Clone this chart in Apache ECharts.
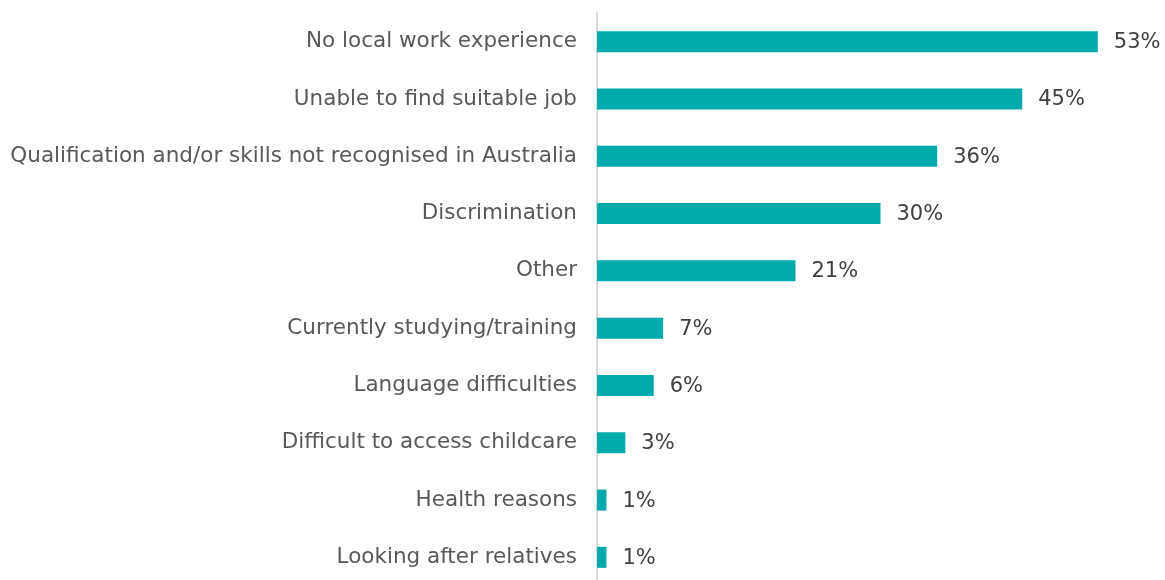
<!DOCTYPE html>
<html>
<head>
<meta charset="utf-8">
<script src="https://cdn.jsdelivr.net/npm/echarts@6/dist/echarts.min.js"></script>
<style>
  html, body { margin: 0; padding: 0; background: #fff; }
  #chart { width: 1165px; height: 580px; }
</style>
</head>
<body>
<div id="chart"></div>
<script>
// Reasons for not working, top to bottom
const categories = [
  'No local work experience',
  'Unable to find suitable job',
  'Qualification and/or skills not recognised in Australia',
  'Discrimination',
  'Other',
  'Currently studying/training',
  'Language difficulties',
  'Difficult to access childcare',
  'Health reasons',
  'Looking after relatives'
];
// Share of respondents (%)
const shares = [53, 45, 36, 30, 21, 7, 6, 3, 1, 1];

const FONT = "'DejaVu Sans', Verdana, sans-serif";

const chart = echarts.init(document.getElementById('chart'));
chart.setOption({
  animation: false,
  textStyle: { fontFamily: FONT },
  grid: {
    left: 597, top: 13, width: 567, height: 573,
    containLabel: false,
    outerBoundsMode: 'none'
  },
  xAxis: {
    type: 'value',
    min: 0,
    max: 60,
    show: false
  },
  yAxis: {
    type: 'category',
    inverse: true,
    data: categories,
    axisLine: { show: true, lineStyle: { color: '#d9d9d9', width: 2 } },
    axisTick: { show: false },
    axisLabel: {
      color: '#595959',
      fontSize: 21.5,
      margin: 20,
      fontFamily: FONT
    }
  },
  series: [{
    type: 'bar',
    data: shares,
    barWidth: 21,
    itemStyle: { color: '#00aaaa' },
    label: {
      show: true,
      position: 'right',
      distance: 16,
      offset: [0, 1],
      color: '#404040',
      fontSize: 21,
      fontFamily: FONT,
      formatter: p => p.value + '%'
    }
  }]
});
</script>
</body>
</html>
